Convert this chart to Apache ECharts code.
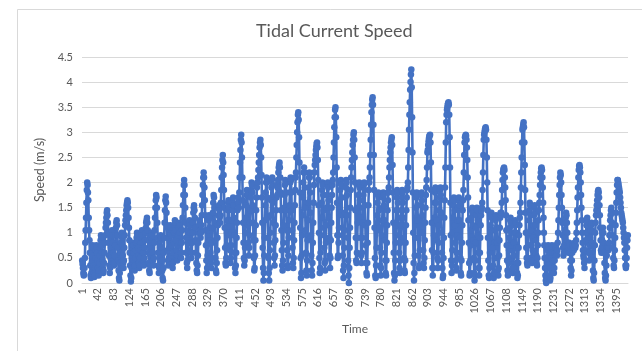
<!DOCTYPE html>
<html>
<head>
<meta charset="utf-8">
<script src="https://cdn.jsdelivr.net/npm/echarts@6/dist/echarts.min.js"></script>
<style>
html,body{margin:0;padding:0;background:#fff;}
#chart{width:642px;height:351px;}
</style>
</head>
<body>
<div id="chart"></div>
<script>
// Tidal current speed (m/s), one value per time step
const speed = [
0.45,0.38,0.3,0.2,0.15,0.17,0.3,
0.5,0.8,1.05,1.3,1.6,1.85,2.0,1.95,1.8,1.65,1.3,1.05,0.85,
0.6,0.35,0.15,0.1,0.2,0.4,0.6,0.75,0.7,0.55,0.35,0.2,0.12,
0.15,0.3,0.5,0.65,0.75,0.7,0.6,0.45,0.3,0.2,0.15,0.25,0.4,
0.55,0.7,0.85,0.95,0.9,0.75,0.6,0.45,0.3,0.2,0.25,0.4,0.6,
0.8,0.95,1.1,1.2,1.3,1.4,1.45,1.35,1.2,1.0,0.8,0.55,0.35,
0.2,0.3,0.5,0.7,0.9,1.0,1.05,0.95,0.8,0.6,0.45,0.35,0.4,0.55,
0.75,0.95,1.1,1.2,1.25,1.15,0.95,0.7,0.45,0.25,0.1,0.05,0.2,
0.4,0.6,0.8,0.95,1.0,0.9,0.75,0.55,0.4,0.3,0.45,0.7,0.95,1.15,
1.25,1.35,1.45,1.55,1.6,1.65,1.6,1.5,1.3,1.1,0.85,0.6,0.35,
0.15,0.03,0.1,0.3,0.5,0.7,0.8,0.75,0.6,0.45,0.3,0.25,
0.35,0.5,0.65,0.8,0.9,1.0,0.95,0.85,0.7,0.55,0.4,0.3,0.35,
0.5,0.65,0.8,0.9,1.0,1.05,0.95,0.8,0.6,0.45,0.35,0.5,
0.7,0.85,1.0,1.1,1.2,1.25,1.3,1.2,1.05,0.85,0.6,0.4,0.25,
0.2,0.35,0.55,0.75,0.9,1.0,0.95,0.8,0.6,0.45,0.35,0.5,
0.8,1.05,1.3,1.5,1.65,1.75,1.7,1.5,1.2,0.9,0.6,0.35,
0.2,0.3,0.5,0.7,0.85,0.95,0.9,0.7,0.45,0.25,0.1,0.05,
0.3,0.6,0.9,1.2,1.45,1.65,1.72,1.6,1.4,1.15,0.9,0.65,0.45,
0.35,0.5,0.7,0.9,1.05,1.15,1.1,0.95,0.75,0.55,0.4,0.3,
0.4,0.6,0.8,1.0,1.15,1.25,1.2,1.05,0.85,0.65,0.5,0.45,
0.55,0.75,0.95,1.1,1.2,1.15,1.0,0.8,0.6,0.5,0.6,
0.8,1.05,1.3,1.55,1.75,1.95,2.05,1.95,1.75,1.5,1.2,0.9,0.6,
0.4,0.3,0.45,0.65,0.85,1.05,1.2,1.25,1.15,1.0,0.8,0.6,0.5,
0.6,0.8,1.0,1.2,1.4,1.5,1.55,1.45,1.3,1.1,0.85,0.6,
0.4,0.25,0.2,0.35,0.55,0.8,1.0,1.15,1.25,1.2,1.05,0.9,1.0,
1.15,1.35,1.55,1.75,1.95,2.1,2.2,2.1,1.9,1.65,1.35,1.05,0.75,
0.45,0.2,0.3,0.55,0.8,1.05,1.25,1.35,1.3,1.1,0.85,0.6,
0.4,0.3,0.5,0.8,1.1,1.4,1.6,1.75,1.7,1.5,1.2,0.85,0.5,
0.25,0.2,0.4,0.65,0.9,1.15,1.35,1.5,1.55,1.45,1.3,1.2,
1.35,1.6,1.85,2.1,2.3,2.45,2.55,2.4,2.15,1.85,1.5,1.1,0.7,
0.4,0.35,0.5,0.75,1.0,1.25,1.45,1.6,1.65,1.5,1.25,0.95,
0.65,0.4,0.5,0.75,1.0,1.25,1.45,1.6,1.7,1.55,1.3,0.95,
0.6,0.3,0.2,0.35,0.6,0.9,1.2,1.45,1.6,1.7,1.6,
1.5,1.8,2.1,2.4,2.65,2.85,2.95,2.8,2.5,2.1,1.65,1.2,0.8,
0.5,0.35,0.45,0.7,1.0,1.3,1.55,1.75,1.85,1.75,1.5,1.15,
0.8,0.55,0.7,0.95,1.2,1.45,1.7,1.85,2.0,1.95,1.8,1.55,1.2,
0.85,0.5,0.25,0.3,0.55,0.85,1.15,1.45,1.7,1.9,2.0,2.0,
2.1,2.25,2.4,2.55,2.7,2.8,2.85,2.75,2.5,2.15,1.7,1.2,0.7,
0.3,0.05,0.2,0.55,0.9,1.25,1.55,1.8,2.0,2.1,2.0,1.7,
1.3,0.9,0.5,0.2,0.05,0.3,0.65,1.0,1.35,1.65,1.9,2.05,2.1,
1.95,1.6,1.2,0.8,0.5,0.35,0.55,0.85,1.15,1.45,1.7,1.95,
1.75,1.9,2.05,2.2,2.3,2.35,2.4,2.3,2.1,1.8,1.45,1.05,0.65,
0.35,0.25,0.45,0.8,1.15,1.5,1.75,1.95,2.05,2.0,1.8,1.45,
1.05,0.65,0.35,0.3,0.55,0.9,1.25,1.55,1.8,2.0,2.1,2.05,
1.8,1.45,1.05,0.7,0.4,0.3,0.5,0.85,1.2,1.55,1.85,2.1,
2.2,2.5,2.75,3.0,3.2,3.35,3.4,3.25,2.9,2.4,1.8,1.1,0.5,
0.1,0.2,0.55,0.95,1.35,1.7,2.0,2.2,2.3,2.2,1.9,1.5,
1.05,0.6,0.25,0.15,0.45,0.85,1.25,1.6,1.9,2.1,2.2,2.1,
1.8,1.4,0.95,0.55,0.25,0.15,0.4,0.8,1.2,1.6,1.95,2.2,
2.35,2.45,2.55,2.65,2.72,2.78,2.8,2.7,2.45,2.05,1.55,1.0,0.5,
0.2,0.3,0.6,0.95,1.3,1.6,1.85,2.0,1.95,1.75,1.45,1.1,
0.7,0.4,0.25,0.45,0.8,1.15,1.5,1.75,1.95,2.0,1.9,1.65,
1.3,0.9,0.55,0.3,0.5,0.85,1.2,1.5,1.75,1.95,2.05,
2.2,2.5,2.8,3.1,3.3,3.45,3.5,3.3,2.9,2.3,1.6,0.95,0.5,
0.55,0.8,1.1,1.4,1.65,1.85,2.0,2.05,1.95,1.7,1.35,0.95,
0.55,0.25,0.1,0.35,0.7,1.05,1.4,1.7,1.9,2.05,2.0,1.75,
1.35,0.9,0.45,0.15,0.0,0.3,0.7,1.1,1.5,1.85,2.1,
2.3,2.45,2.6,2.75,2.85,2.95,3.0,2.85,2.5,2.0,1.45,0.9,0.45,
0.4,0.6,0.9,1.2,1.5,1.75,1.95,2.0,1.9,1.65,1.3,0.9,
0.55,0.4,0.6,0.9,1.2,1.5,1.75,1.95,2.0,1.85,1.55,1.15,
0.75,0.4,0.2,0.15,0.4,0.8,1.2,1.55,1.85,2.0,2.1,2.3,
2.55,2.85,3.15,3.4,3.55,3.65,3.7,3.55,3.15,2.55,1.85,1.1,0.5,
0.15,0.1,0.35,0.7,1.05,1.35,1.6,1.75,1.8,1.7,1.45,1.1,
0.7,0.35,0.15,0.3,0.6,0.95,1.25,1.5,1.7,1.8,1.75,1.55,1.25,
0.85,0.45,0.2,0.15,0.45,0.8,1.15,1.45,1.65,1.8,1.9,2.1,
2.3,2.45,2.6,2.7,2.8,2.85,2.9,2.75,2.35,1.8,1.2,0.6,0.2,
0.05,0.15,0.45,0.8,1.15,1.45,1.7,1.85,1.8,1.6,1.3,0.95,0.6,
0.3,0.2,0.45,0.8,1.15,1.45,1.7,1.85,1.8,1.6,1.3,0.9,
0.5,0.25,0.2,0.45,0.8,1.15,1.45,1.7,1.85,1.9,2.0,2.3,2.65,
3.05,3.35,3.6,3.85,4.0,4.15,4.25,3.9,3.3,2.6,1.8,1.0,0.4,
0.05,0.2,0.55,0.9,1.25,1.5,1.7,1.8,1.75,1.55,1.25,0.9,
0.55,0.3,0.35,0.65,1.0,1.3,1.55,1.75,1.8,1.65,1.35,1.0,
0.65,0.4,0.3,0.5,0.85,1.2,1.5,1.75,1.9,2.05,2.3,2.6,
2.65,2.75,2.82,2.88,2.92,2.94,2.95,2.8,2.4,1.85,1.2,0.65,0.3,
0.15,0.3,0.6,0.95,1.3,1.6,1.8,1.9,1.85,1.6,1.25,0.85,
0.5,0.3,0.45,0.8,1.15,1.45,1.7,1.85,1.9,1.75,1.4,1.0,
0.6,0.3,0.1,0.15,0.5,0.9,1.3,1.65,1.9,2.3,2.8,3.2,
3.35,3.45,3.5,3.55,3.58,3.6,3.55,3.35,2.9,2.3,1.6,0.95,0.45,
0.2,0.35,0.65,1.0,1.3,1.55,1.7,1.65,1.45,1.15,0.8,0.45,
0.25,0.3,0.6,0.95,1.25,1.5,1.65,1.7,1.55,1.25,0.9,0.5,
0.2,0.15,0.45,0.8,1.15,1.45,1.65,1.85,2.2,2.55,2.8,
2.9,2.92,2.95,2.93,2.85,2.7,2.45,2.1,1.7,1.25,0.8,0.4,0.15,
0.2,0.45,0.75,1.05,1.3,1.45,1.5,1.4,1.15,0.85,0.5,0.2,
0.05,0.15,0.45,0.8,1.1,1.35,1.5,1.45,1.25,0.95,0.6,0.3,0.15,
0.3,0.6,0.9,1.15,1.35,1.45,1.5,1.6,1.85,2.2,2.55,2.85,
2.95,3.0,3.05,3.08,3.1,3.05,2.85,2.5,2.0,1.45,0.9,0.45,0.15,
0.1,0.3,0.6,0.9,1.15,1.35,1.4,1.3,1.05,0.7,0.35,0.15,
0.1,0.2,0.5,0.8,1.05,1.25,1.35,1.3,1.1,0.8,0.5,0.25,0.15,
0.3,0.55,0.85,1.1,1.3,1.4,1.35,1.4,1.6,1.85,2.05,2.2,
2.25,2.28,2.3,2.25,2.1,1.9,1.65,1.35,1.05,0.75,0.45,0.25,0.15,
0.2,0.4,0.65,0.9,1.1,1.25,1.3,1.2,1.0,0.75,0.5,0.3,0.2,
0.3,0.55,0.8,1.0,1.15,1.25,1.2,1.0,0.7,0.4,0.2,0.1,
0.15,0.4,0.7,0.95,1.15,1.3,1.4,1.6,1.9,2.2,2.5,2.8,3.05,
3.1,3.15,3.2,3.1,2.8,2.35,1.85,1.4,1.0,0.7,0.5,0.4,0.35,
0.5,0.75,1.0,1.25,1.45,1.6,1.55,1.35,1.05,0.75,0.5,0.4,
0.45,0.65,0.9,1.15,1.35,1.5,1.55,1.4,1.15,0.85,0.55,0.4,
0.35,0.5,0.75,1.0,1.25,1.45,1.6,1.75,1.95,2.1,2.2,2.28,
2.3,2.25,2.1,1.9,1.6,1.3,1.0,0.75,0.5,0.3,0.15,0.05,0.0,
0.1,0.3,0.5,0.65,0.75,0.7,0.55,0.35,0.15,0.05,0.1,0.3,
0.5,0.65,0.75,0.7,0.6,0.45,0.3,0.2,0.3,0.45,0.6,0.7,0.75,
0.7,0.6,0.55,0.65,0.8,1.0,1.25,1.5,1.75,1.95,2.1,2.2,
2.15,2.0,1.75,1.5,1.2,0.95,0.7,0.55,0.6,0.75,0.9,1.05,1.2,
1.3,1.4,1.35,1.2,1.0,0.8,0.65,0.6,0.7,0.8,0.75,0.6,
0.45,0.3,0.15,0.25,0.45,0.6,0.7,0.75,0.7,0.65,0.7,0.8,0.75,
0.7,0.75,0.85,1.0,1.2,1.45,1.7,1.9,2.1,2.25,2.33,2.35,
2.3,2.2,2.0,1.75,1.5,1.25,1.0,0.8,0.65,0.55,0.5,0.4,0.3,
0.45,0.65,0.85,1.0,1.15,1.25,1.3,1.2,1.0,0.8,0.6,0.45,
0.6,0.75,0.9,1.05,1.15,1.2,1.05,0.8,0.5,0.25,0.1,0.05,
0.2,0.45,0.75,1.0,1.2,1.35,1.45,1.55,1.65,1.75,1.82,1.85,
1.8,1.7,1.55,1.35,1.1,0.85,0.65,0.6,0.7,0.85,1.0,1.1,1.0,
0.8,0.6,0.4,0.2,0.1,0.05,0.15,0.35,0.55,0.7,0.75,0.7,
0.65,0.7,0.8,0.95,1.1,1.25,1.35,1.45,1.5,1.4,1.2,0.95,0.7,
0.5,0.35,0.3,0.45,0.65,0.9,1.15,1.4,1.6,1.8,1.95,2.05,
2.05,2.0,1.95,1.9,1.85,1.8,1.7,1.6,1.5,1.4,1.35,1.3,1.25,1.2,1.1,1.0,0.9,0.8,0.65,0.5,0.35,0.3,0.35,0.5,0.7,0.85,0.95
];
// Time step labels: 1..N
const times = speed.map((_, i) => String(i + 1));
const yTicks = { min: 0, max: 4.5, step: 0.5 };
const titleText = 'Tidal Current Speed';
const xName = 'Time';
const yName = 'Speed (m/s)';

const chart = echarts.init(document.getElementById('chart'), null, { renderer: 'canvas' });
const FONT = 'Lato, "Open Sans", sans-serif';
chart.setOption({
  animation: false,
  backgroundColor: '#ffffff',
  graphic: [{
    type: 'rect', left: 15, top: 7, silent: true,
    shape: { width: 660, height: 370 },
    style: { fill: 'none', stroke: '#d9d9d9', lineWidth: 1 }
  }],
  title: {
    text: titleText, left: 251, top: 17,
    textStyle: { color: '#595959', fontSize: 18, fontWeight: 'normal', fontFamily: FONT }
  },
  grid: { left: 82, right: 14, top: 57, bottom: 68, containLabel: false },
  xAxis: {
    type: 'category', data: times, boundaryGap: true,
    name: xName, nameLocation: 'middle', nameGap: 40,
    nameTextStyle: { color: '#595959', fontSize: 12, fontFamily: FONT },
    axisLine: { lineStyle: { color: '#d9d9d9', width: 1 } },
    axisTick: { show: false },
    axisLabel: { interval: 40, rotate: 90, color: '#595959', fontSize: 11, fontFamily: FONT, margin: 5 },
    splitLine: { show: false }
  },
  yAxis: {
    type: 'value', min: yTicks.min, max: yTicks.max, interval: yTicks.step,
    name: yName, nameLocation: 'middle', nameGap: 33, nameRotate: 90,
    nameTextStyle: { color: '#595959', fontSize: 12.5, fontFamily: FONT },
    axisLine: { show: false }, axisTick: { show: false },
    axisLabel: { color: '#595959', fontSize: 11, fontFamily: FONT, margin: 9 },
    splitLine: { lineStyle: { color: '#d9d9d9', width: 1 } }
  },
  series: [{
    type: 'line', data: speed,
    showAllSymbol: true, symbol: 'circle', symbolSize: 6.5,
    sampling: null,
    lineStyle: { color: '#4472C4', width: 2.6 },
    itemStyle: { color: '#4472C4' },
    z: 3
  }]
});
</script>
</body>
</html>
